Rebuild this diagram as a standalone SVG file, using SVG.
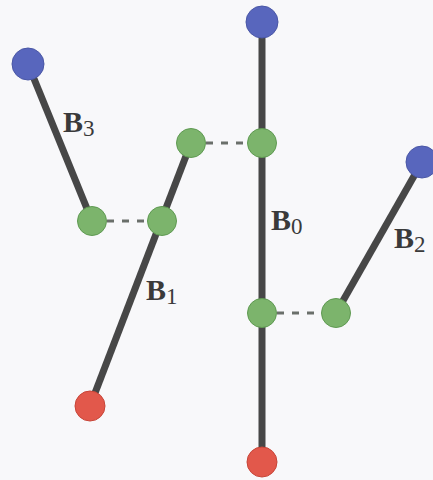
<svg xmlns="http://www.w3.org/2000/svg" width="433" height="480" viewBox="0 0 433 480">
  <style>
    .bone { stroke: #474747; stroke-width: 7; stroke-linecap: butt; fill: none; }
    .link { stroke: #6a6f6a; stroke-width: 3; stroke-dasharray: 7 8; fill: none; }
    .root { fill: #5866bd; stroke: #4a57a6; stroke-width: 1; }
    .joint { fill: #7cb46c; stroke: #5f9a52; stroke-width: 1; }
    .tip { fill: #e2584b; stroke: #c74538; stroke-width: 1; }
    .lbl { font-family: "Liberation Serif", "Times New Roman", serif; font-weight: bold; font-size: 30px; fill: #3a3a3a; }
    .sub { font-weight: normal; font-size: 23px; }
  </style>
  <rect width="433" height="480" fill="#f8f8fa"/>

  <g id="connectors">
    <!-- branch segments -->
    <line class="bone" x1="262" y1="22" x2="262" y2="462"/>
    <line class="bone" x1="90" y1="406" x2="191" y2="143"/>
    <line class="bone" x1="336" y1="313" x2="422" y2="162"/>
    <line class="bone" x1="28" y1="64" x2="92" y2="221"/>
    <!-- dashed couplings between branches -->
    <line class="link" x1="107" y1="221" x2="148" y2="221"/>
    <line class="link" x1="206" y1="143" x2="248" y2="143"/>
    <line class="link" x1="277" y1="313" x2="322" y2="313"/>
  </g>

  <g id="B0">
    <circle class="root" cx="262" cy="22" r="16"/>
    <circle class="joint" cx="262" cy="143" r="14.5"/>
    <circle class="joint" cx="262" cy="313" r="14.5"/>
    <circle class="tip" cx="262" cy="462" r="15"/>
    <text class="lbl" x="271" y="230">B<tspan class="sub" dy="4">0</tspan></text>
  </g>

  <g id="B1">
    <circle class="joint" cx="191" cy="143" r="14.5"/>
    <circle class="joint" cx="162" cy="221" r="14.5"/>
    <circle class="tip" cx="90" cy="406" r="15"/>
    <text class="lbl" x="146" y="300">B<tspan class="sub" dy="4">1</tspan></text>
  </g>

  <g id="B2">
    <circle class="root" cx="422" cy="162" r="16"/>
    <circle class="joint" cx="336" cy="313" r="14.5"/>
    <text class="lbl" x="394" y="248">B<tspan class="sub" dy="4">2</tspan></text>
  </g>

  <g id="B3">
    <circle class="root" cx="28" cy="64" r="16"/>
    <circle class="joint" cx="92" cy="221" r="14.5"/>
    <text class="lbl" x="63" y="132">B<tspan class="sub" dy="4">3</tspan></text>
  </g>
</svg>
